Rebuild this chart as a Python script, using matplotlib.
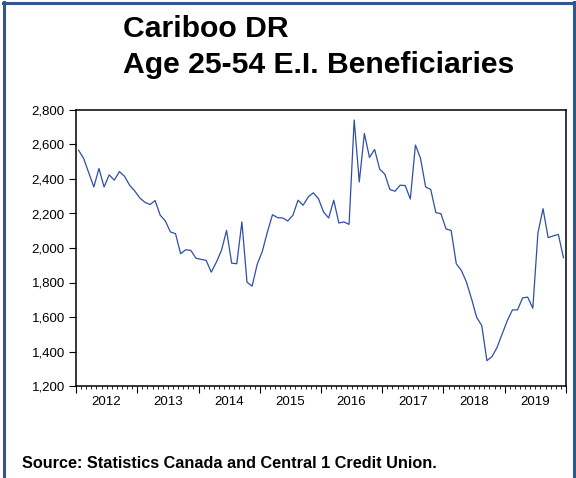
import matplotlib
matplotlib.use("Agg")
import matplotlib.pyplot as plt
import matplotlib.transforms as mtransforms
from matplotlib.lines import Line2D
from matplotlib.ticker import FixedLocator, NullFormatter
import numpy as np

plt.rcParams['font.family'] = ['Liberation Sans', 'DejaVu Sans']

# Monthly E.I. beneficiaries aged 25-54, Cariboo development region, Jan 2012 - Dec 2019
years = [2012, 2013, 2014, 2015, 2016, 2017, 2018, 2019]
beneficiaries = [
    2567, 2519, 2436, 2354, 2461, 2354, 2424, 2393, 2443, 2416, 2364, 2331,
    2290, 2265, 2252, 2275, 2190, 2157, 2093, 2083, 1967, 1990, 1986, 1941,
    1934, 1928, 1860, 1918, 1986, 2102, 1912, 1909, 2151, 1802, 1779, 1905,
    1980, 2093, 2193, 2176, 2174, 2157, 2190, 2277, 2248, 2296, 2320, 2286,
    2209, 2174, 2277, 2145, 2151, 2137, 2742, 2383, 2664, 2525, 2571, 2457,
    2428, 2339, 2329, 2364, 2362, 2284, 2597, 2519, 2354, 2339, 2205, 2199,
    2110, 2102, 1909, 1870, 1802, 1705, 1598, 1550, 1347, 1370, 1424, 1502,
    1579, 1641, 1641, 1711, 1715, 1651, 2087, 2228, 2060, 2070, 2079, 1944,
]
y_ticks = [1200, 1400, 1600, 1800, 2000, 2200, 2400, 2600, 2800]
y_tick_labels = ["1,200", "1,400", "1,600", "1,800", "2,000", "2,200", "2,400", "2,600", "2,800"]

title_lines = ["Cariboo DR", "Age 25-54 E.I. Beneficiaries"]
source_note = "Source: Statistics Canada and Central 1 Credit Union."

W, H = 576, 478
fig = plt.figure(figsize=(W / 100, H / 100), dpi=100)
fig.patch.set_facecolor("white")

def fx(px):
    return px / W

def fy(py):
    return 1 - py / H

ax_left, ax_right, ax_top, ax_bottom = 76, 566, 110, 386
ax = fig.add_axes([fx(ax_left), fy(ax_bottom), fx(ax_right - ax_left), (ax_bottom - ax_top) / H])

months = np.arange(len(beneficiaries))
ax.plot(months, beneficiaries, color="#2E4FA6", linewidth=0.9)

ax.set_xlim(-0.5, len(beneficiaries) - 0.5)
ax.set_ylim(y_ticks[0], y_ticks[-1])

ax.set_yticks(y_ticks)
ax.set_yticklabels(y_tick_labels, fontsize=9.5)
ax.tick_params(axis="y", direction="out", length=5, width=0.8, pad=3)

# Year boundaries as major ticks, months as minor ticks
year_bounds = [-0.5 + 12 * k for k in range(len(years) + 1)]
month_bounds = [-0.5 + m for m in range(len(beneficiaries) + 1)]
ax.xaxis.set_major_locator(FixedLocator(year_bounds))
ax.xaxis.set_minor_locator(FixedLocator(month_bounds))
ax.xaxis.set_major_formatter(NullFormatter())
ax.tick_params(axis="x", which="major", direction="out", length=5, width=0.8)
ax.tick_params(axis="x", which="minor", direction="out", length=2.5, width=0.6)

# Year labels centred under each year
trans = mtransforms.blended_transform_factory(ax.transData, ax.transAxes)
for k, yr in enumerate(years):
    ax.text(12 * k + 5.5, -0.035, str(yr), transform=trans, ha="center", va="top", fontsize=9.5)

for side in ["left", "right", "top", "bottom"]:
    ax.spines[side].set_linewidth(1.1)
    ax.spines[side].set_color("black")

# Titles
fig.text(fx(123), fy(37), title_lines[0], fontsize=21.7, fontweight="bold", ha="left", va="baseline")
fig.text(fx(123), fy(73), title_lines[1], fontsize=21.7, fontweight="bold", ha="left", va="baseline")

# Source note
fig.text(fx(22), fy(468), source_note, fontsize=11.7, fontweight="bold", ha="left", va="baseline")

# Outer frame
frame_color = "#34558F"
fig.add_artist(Line2D([fx(3.5), fx(3.5)], [fy(2), fy(H + 5)], color=frame_color, linewidth=2.2, transform=fig.transFigure))
fig.add_artist(Line2D([fx(573.5), fx(573.5)], [fy(2), fy(H + 5)], color=frame_color, linewidth=2.2, transform=fig.transFigure))
fig.add_artist(Line2D([fx(2.5), fx(574.5)], [fy(2.5), fy(2.5)], color=frame_color, linewidth=2.2, transform=fig.transFigure))

fig.savefig("out.png", dpi=100, facecolor="white")
